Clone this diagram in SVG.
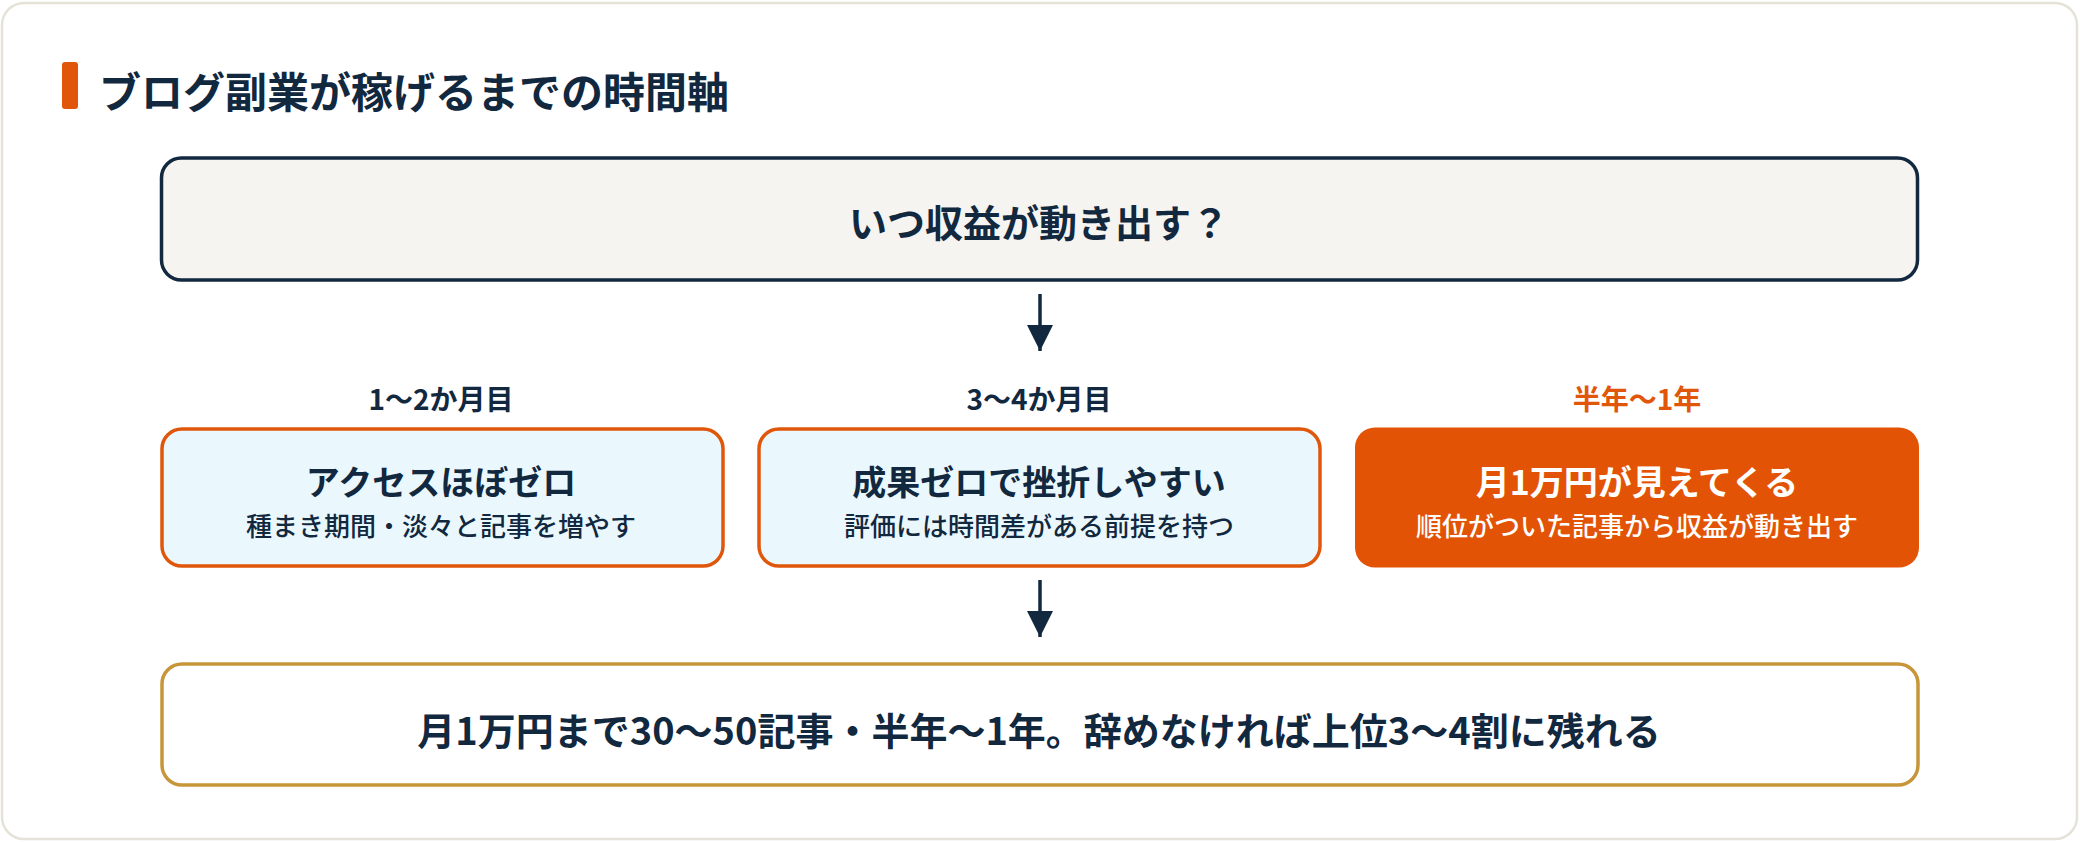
<svg xmlns="http://www.w3.org/2000/svg" width="2080" height="842" viewBox="0 0 2080 842">
<style>
text{font-family:"Noto Sans CJK JP","Noto Sans",sans-serif;text-anchor:middle;dominant-baseline:central;fill:#12283f}
.b{font-weight:700}
.lab{font-size:28px;font-weight:700}
.h{font-size:34px;font-weight:700}
.s{font-size:26px;font-weight:500}
.phase{fill:#eaf8fd;stroke:#e0560b;stroke-width:3.5}
.w{fill:#ffffff}
</style>
<defs>
<marker id="ah" viewBox="0 0 10 10" refX="10" refY="5" markerWidth="26" markerHeight="26" markerUnits="userSpaceOnUse" orient="auto">
<path d="M0,0 L10,5 L0,10 z" fill="#12283f"/>
</marker>
</defs>
<rect x="2" y="3" width="2075" height="836" rx="22" fill="#ffffff" stroke="#e5e2d8" stroke-width="2.5"/>
<g id="title">
<rect x="62" y="62" width="16" height="47" rx="3" fill="#e0560b"/>
<text x="99" y="89" class="b" style="font-size:42px;text-anchor:start">ブログ副業が稼げるまでの時間軸</text>
</g>
<g id="question">
<rect x="161.5" y="158" width="1756" height="122" rx="20" fill="#f5f4f0" stroke="#12283f" stroke-width="3.5"/>
<text x="1039" y="220" class="b" style="font-size:38px">いつ収益が動き出す？</text>
</g>
<g id="phase1">
<text x="441" y="398" class="lab">1～2か月目</text>
<rect x="162" y="429" width="561" height="137" rx="20" class="phase"/>
<text x="441" y="480" class="h">アクセスほぼゼロ</text>
<text x="441" y="524" class="s">種まき期間・淡々と記事を増やす</text>
</g>
<g id="phase2">
<text x="1039" y="398" class="lab">3～4か月目</text>
<rect x="759" y="429" width="561" height="137" rx="20" class="phase"/>
<text x="1039" y="480" class="h">成果ゼロで挫折しやすい</text>
<text x="1039" y="524" class="s">評価には時間差がある前提を持つ</text>
</g>
<g id="phase3">
<text x="1637" y="398" class="lab" style="fill:#e0560b">半年～1年</text>
<rect x="1355" y="427.5" width="564" height="140" rx="20" fill="#e35305"/>
<text x="1637" y="480" class="h w">月1万円が見えてくる</text>
<text x="1637" y="524" class="s w">順位がついた記事から収益が動き出す</text>
</g>
<g id="summary">
<rect x="162" y="664" width="1756" height="121" rx="20" fill="#ffffff" stroke="#c8963a" stroke-width="3.5"/>
<text x="1039" y="728" class="b" style="font-size:38px">月1万円まで30～50記事・半年～1年。辞めなければ上位3～4割に残れる</text>
</g>
<g id="connectors" stroke="#12283f" stroke-width="3.5" fill="none">
<line x1="1040" y1="294" x2="1040" y2="351" marker-end="url(#ah)"/>
<line x1="1040" y1="580" x2="1040" y2="637" marker-end="url(#ah)"/>
</g>
</svg>
